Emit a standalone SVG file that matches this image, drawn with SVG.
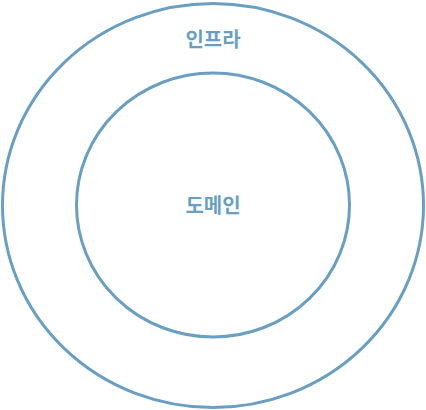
<svg xmlns="http://www.w3.org/2000/svg" width="426" height="410" viewBox="0 0 426 410">
<style>
.ring{fill:none;stroke:#6a9fc4;stroke-width:3}
.lbl{font-family:"Noto Sans CJK KR","Noto Sans",sans-serif;font-weight:bold;font-size:20px;fill:#6a9fc4;text-anchor:middle;dominant-baseline:central}
</style>
<rect width="426" height="410" fill="#ffffff"/>
<g id="infra">
<ellipse class="ring" cx="213" cy="205.5" rx="210.5" ry="202"/>
<text class="lbl" x="213" y="38">인프라</text>
</g>
<g id="domain">
<ellipse class="ring" cx="213" cy="205" rx="136.5" ry="132"/>
<text class="lbl" x="213" y="204">도메인</text>
</g>
<g id="connectors"></g>
</svg>
